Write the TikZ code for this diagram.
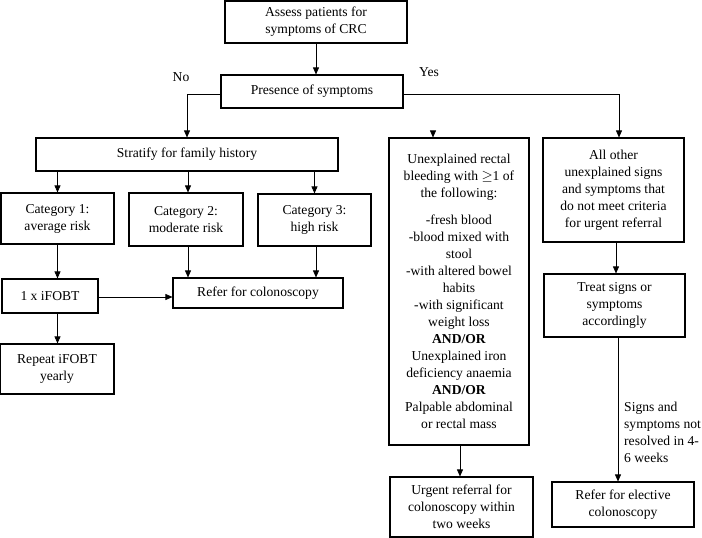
\documentclass[tikz,border=0pt]{standalone}
\usepackage{fontspec}
\setmainfont{Liberation Serif}
\usetikzlibrary{arrows.meta,positioning,calc}
\tikzset{
  fbox/.style={draw=black, line width=1.1pt, align=center, inner sep=0pt,
               font=\fontsize{13.6}{17}\selectfont},
  farr/.style={-{Triangle[length=7pt, width=6pt]}, line width=0.7pt},
  fline/.style={line width=0.7pt},
  flab/.style={font=\fontsize{13.6}{17}\selectfont, inner sep=0pt},
}

\begin{document}
\begin{tikzpicture}[x=1pt, y=-1pt]
        \useasboundingbox (0,0) rectangle (702,538);
        % top of the chart
        \node[fbox, minimum width=182pt, minimum height=42pt] (assess) at (316,22) {Assess patients for\\symptoms of CRC};
        \node[fbox, minimum width=182pt, minimum height=33pt] (pres) at (312,91.5) {Presence of symptoms};
        \node[flab] (no) at (181,77) {No};
        \node[flab] (yes) at (429,72) {Yes};
        % no branch
        \node[fbox, minimum width=302pt, minimum height=33pt] (strat) at (187,154.5) {Stratify for family history};
        \node[fbox, minimum width=113pt, minimum height=51pt] (cat1) at (57.5,218.5) {Category 1:\\average risk};
        \node[fbox, minimum width=114pt, minimum height=53pt] (cat2) at (186,219.5) {Category 2:\\moderate risk};
        \node[fbox, minimum width=113pt, minimum height=52pt] (cat3) at (314.5,220) {Category 3:\\high risk};
        \node[fbox, minimum width=96pt, minimum height=34pt] (fobt) at (50,296) {1 x iFOBT};
        \node[fbox, minimum width=170pt, minimum height=30pt] (colo) at (258,293) {Refer for colonoscopy};
        \node[fbox, minimum width=114pt, minimum height=50pt] (rep) at (57,369) {Repeat iFOBT\\yearly};
        % yes branch
        \node[fbox, minimum width=140pt, minimum height=307pt] (unex) at (459,291.5) {Unexplained rectal\\bleeding with $\geq$1 of\\the following:\\[10pt]
          -fresh blood\\-blood mixed with\\stool\\-with altered bowel\\habits\\-with significant\\weight loss\\\textbf{AND/OR}\\
          Unexplained iron\\deficiency anaemia\\\textbf{AND/OR}\\Palpable abdominal\\or rectal mass};
        \node[fbox, minimum width=141pt, minimum height=104pt] (other) at (613.5,190) {All other\\unexplained signs\\and symptoms that\\do not meet criteria\\for urgent referral};
        \node[fbox, minimum width=141pt, minimum height=63pt] (treat) at (614.5,305.5) {Treat signs or\\symptoms\\accordingly};
        \node[fbox, minimum width=143pt, minimum height=60pt] (urg) at (461.5,507) {Urgent referral for\\colonoscopy within\\two weeks};
        \node[fbox, minimum width=142pt, minimum height=45pt] (elec) at (623,504.5) {Refer for elective\\colonoscopy};
        \node[flab, anchor=west, align=left] (signs) at (624,432) {Signs and\\symptoms not\\resolved in 4-\\6 weeks};
        % connectors
        \coordinate (uin) at ([xshift=-26pt]unex.north);
        \coordinate (oin) at ([xshift=5.5pt]other.north);
        \draw[farr] (assess.south) -- (assess.south |- pres.north);
        \draw[farr] ([yshift=-2.5pt]pres.west) -| (strat.north);
        \draw[farr] ([yshift=-2.5pt]pres.east) -| (oin);
        \draw[farr] (uin |- oin) ++(0,-2.5) -- (uin);
        \draw[farr] (cat1.north |- strat.south) -- (cat1.north);
        \draw[farr] ([xshift=2pt]cat2.north |- strat.south) -- ([xshift=2pt]cat2.north);
        \draw[farr] (cat3.north |- strat.south) -- (cat3.north);
        \draw[farr] (cat1.south) -- (cat1.south |- fobt.north);
        \draw[farr] (cat1.south |- fobt.south) -- (cat1.south |- rep.north);
        \draw[farr] ([xshift=2pt]cat2.south) -- ([xshift=2pt]cat2.south |- colo.north);
        \draw[farr] ([xshift=1.5pt]cat3.south) -- ([xshift=1.5pt]cat3.south |- colo.north);
        \draw[farr] ([yshift=-1pt]fobt.east) -- ([yshift=-1pt]fobt.east -| colo.west);
        \draw[farr] ([xshift=1pt]unex.south) -- ([xshift=1pt]unex.south |- urg.north);
        \draw[farr] ([xshift=2.5pt]other.south) -- ([xshift=2.5pt]other.south |- treat.north);
        \draw[farr] ([xshift=3.5pt]treat.south) -- ([xshift=3.5pt]treat.south |- elec.north);
      \end{tikzpicture}
\end{document}
